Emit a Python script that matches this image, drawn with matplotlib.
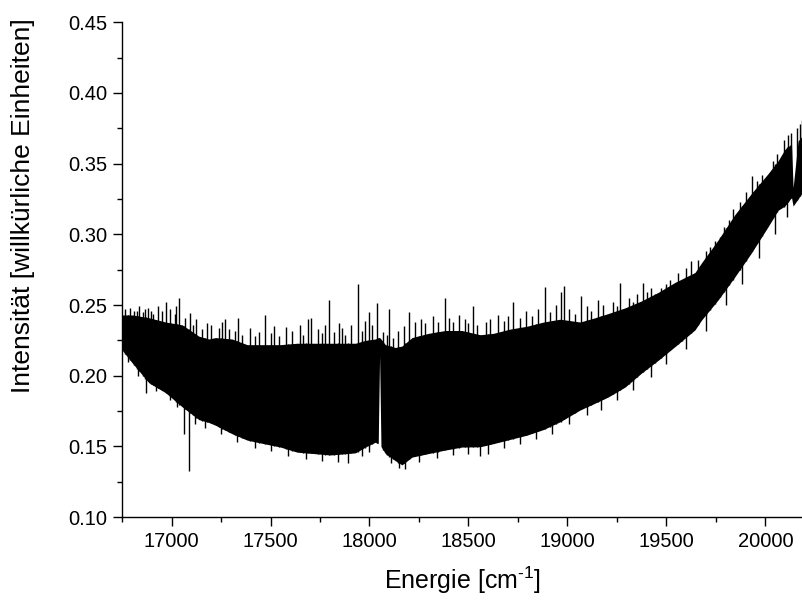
import numpy as np
import matplotlib.pyplot as plt
from matplotlib.ticker import MultipleLocator, FormatStrFormatter

plt.rcParams['font.family'] = ['Liberation Sans', 'DejaVu Sans']
plt.rcParams['mathtext.fontset'] = 'custom'
plt.rcParams['mathtext.rm'] = 'Liberation Sans'
plt.rcParams['mathtext.it'] = 'Liberation Sans'

# Huellkurve des Spektrums
energie = [16751, 16802, 16886, 16970, 17054, 17138, 17188, 17222, 17306,
           17382, 17466, 17550, 17634, 17718, 17802, 17887, 17929, 17979,
           18029, 18044, 18051, 18058, 18080, 18130, 18164, 18215, 18298,
           18383, 18467, 18559, 18626, 18710, 18795, 18879, 18963, 19064,
           19139, 19206, 19291, 19375, 19459, 19543, 19644, 19678, 19761,
           19846, 19930, 20014, 20064, 20098, 20132, 20140, 20165, 20189]
oben = [0.243, 0.243, 0.241, 0.238, 0.236, 0.228, 0.226, 0.227, 0.226,
        0.222, 0.222, 0.222, 0.223, 0.223, 0.223, 0.223, 0.223, 0.225,
        0.226, 0.227, 0.227, 0.226, 0.222, 0.220, 0.221, 0.227, 0.230,
        0.232, 0.232, 0.229, 0.230, 0.233, 0.235, 0.238, 0.240, 0.238,
        0.241, 0.244, 0.248, 0.253, 0.259, 0.266, 0.273, 0.280, 0.296,
        0.314, 0.329, 0.343, 0.352, 0.360, 0.364, 0.333, 0.366, 0.370]
unten = [0.218, 0.209, 0.195, 0.188, 0.178, 0.169, 0.167, 0.165, 0.159,
         0.1545, 0.152, 0.1496, 0.146, 0.145, 0.144, 0.145, 0.1455, 0.1496,
         0.153, 0.152, 0.214, 0.150, 0.145, 0.140, 0.137, 0.1425, 0.145,
         0.1475, 0.1496, 0.1498, 0.152, 0.155, 0.158, 0.162, 0.1675, 0.1758,
         0.1806, 0.185, 0.192, 0.202, 0.211, 0.2206, 0.2324, 0.2395, 0.2536,
         0.270, 0.287, 0.3055, 0.317, 0.320, 0.326, 0.320, 0.325, 0.330]

# grosse Spitzen nach oben
spitze_x = [16790, 16828, 16868, 16894, 16970, 17040, 17094, 17178, 17270,
            17337, 17471, 17580, 17689, 17706, 17795, 17845, 17940, 17995,
            18037, 18101, 18202, 18380, 18524, 18725, 18889, 18965, 18985,
            19070, 19153, 19267, 19380, 19474, 19580, 19625, 19773, 19900,
            19934, 20092, 20185]
spitze_y = [0.248, 0.246, 0.247, 0.246, 0.2524, 0.255, 0.2444, 0.2376, 0.240,
            0.241, 0.243, 0.2347, 0.240, 0.241, 0.2537, 0.237, 0.265, 0.245,
            0.2513, 0.247, 0.245, 0.2548, 0.249, 0.252, 0.263, 0.2595, 0.2636,
            0.2565, 0.2536, 0.2654, 0.2654, 0.262, 0.2678, 0.2808, 0.2984,
            0.330, 0.341, 0.367, 0.381]

# kleine Spitzen am oberen Rand
haar_x = [16765, 16812, 16835, 16858, 16880, 16905, 16930, 16950, 16990,
          17015, 17025, 17070, 17110, 17125, 17155, 17200, 17240, 17255,
          17290, 17320, 17355, 17395, 17420, 17440, 17500, 17520, 17545,
          17610, 17650, 17665, 17740, 17760, 17775, 17820, 17860, 17875,
          17905, 17960, 17975, 18015, 18070, 18090, 18120, 18145, 18175,
          18230, 18260, 18280, 18320, 18345, 18400, 18420, 18450, 18480,
          18500, 18545, 18590, 18610, 18650, 18680, 18700, 18760, 18790,
          18820, 18850, 18910, 18940, 19010, 19040, 19100, 19120, 19180,
          19230, 19250, 19310, 19330, 19350, 19400, 19420, 19440, 19500,
          19520, 19560, 19600, 19660, 19700, 19720, 19745, 19790, 19815,
          19835, 19870, 19960, 19985, 20040, 20060, 20115, 20130, 20160,
          20175]
haar_y = [0.247, 0.246, 0.249, 0.245, 0.248, 0.244, 0.249, 0.246, 0.247,
          0.244, 0.249, 0.241, 0.236, 0.240, 0.233, 0.236, 0.234, 0.238,
          0.233, 0.232, 0.229, 0.234, 0.228, 0.231, 0.230, 0.235, 0.228,
          0.232, 0.236, 0.229, 0.233, 0.230, 0.236, 0.231, 0.234, 0.229,
          0.236, 0.232, 0.239, 0.236, 0.231, 0.229, 0.227, 0.232, 0.235,
          0.238, 0.240, 0.237, 0.242, 0.238, 0.241, 0.238, 0.243, 0.240,
          0.237, 0.236, 0.238, 0.240, 0.243, 0.239, 0.242, 0.241, 0.246,
          0.242, 0.247, 0.245, 0.250, 0.247, 0.244, 0.249, 0.246, 0.250,
          0.252, 0.249, 0.255, 0.252, 0.258, 0.259, 0.262, 0.258, 0.265,
          0.268, 0.273, 0.276, 0.282, 0.288, 0.291, 0.295, 0.305, 0.310,
          0.318, 0.323, 0.338, 0.342, 0.352, 0.357, 0.370, 0.372, 0.375,
          0.378]

# Spitzen nach unten
tief_x = [16873, 17061, 17087, 17893, 18150, 18560,
          16780, 16830, 16920, 16990, 17030, 17120, 17170, 17250, 17330,
          17420, 17500, 17590, 17680, 17760, 17840, 17960, 18000, 18110,
          18180, 18250, 18340, 18420, 18500, 18600, 18680, 18760, 18840,
          18920, 19010, 19100, 19170, 19250, 19330, 19420, 19500, 19600,
          19700, 19800, 19880, 19970, 20050, 20110]
tief_y = [0.1876, 0.159, 0.133, 0.138, 0.135, 0.143,
          0.210, 0.200, 0.189, 0.183, 0.178, 0.166, 0.163, 0.159, 0.153,
          0.149, 0.147, 0.143, 0.141, 0.140, 0.139, 0.143, 0.146, 0.138,
          0.134, 0.139, 0.142, 0.144, 0.145, 0.145, 0.149, 0.152, 0.155,
          0.159, 0.166, 0.172, 0.176, 0.183, 0.190, 0.199, 0.208, 0.219,
          0.232, 0.250, 0.265, 0.283, 0.300, 0.312]

fig = plt.figure(figsize=(8.03, 6.0), dpi=100)
ax = fig.add_axes([0.152, 0.138, 0.848, 0.825])

ax.fill_between(energie, unten, oben, color="black", lw=0)
ax.vlines(spitze_x, np.interp(spitze_x, energie, unten), spitze_y,
          color="black", lw=1.0)
ax.vlines(haar_x, np.interp(haar_x, energie, unten), haar_y,
          color="black", lw=1.0)
ax.vlines(tief_x, tief_y, np.interp(tief_x, energie, oben),
          color="black", lw=1.0)

ax.set_xlim(16750, 20190)
ax.set_ylim(0.10, 0.45)
ax.xaxis.set_major_locator(MultipleLocator(500))
ax.xaxis.set_minor_locator(MultipleLocator(250))
ax.yaxis.set_major_locator(MultipleLocator(0.05))
ax.yaxis.set_minor_locator(MultipleLocator(0.025))
ax.yaxis.set_major_formatter(FormatStrFormatter("%.2f"))

for s in ["top", "right"]:
    ax.spines[s].set_visible(False)
for s in ["left", "bottom"]:
    ax.spines[s].set_linewidth(1.0)

ax.tick_params(which="major", direction="out", length=6.5, width=1.0,
               labelsize=14.5, pad=4)
ax.tick_params(which="minor", direction="out", length=3.5, width=1.0)

ax.set_xlabel(r"Energie [cm$^{\text{-1}}$]", fontsize=18)
ax.set_ylabel("Intensität [willkürliche Einheiten]", fontsize=19)
ax.xaxis.set_label_coords(0.5, -0.095)
ax.yaxis.set_label_coords(-0.128, 0.63)

fig.savefig("out.png", dpi=100)
